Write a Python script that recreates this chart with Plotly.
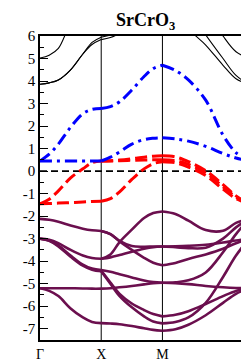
import numpy as np
import plotly.graph_objects as go

# fractional positions along each k-path segment where band energies were read
F = [0, 0.15, 0.3, 0.5, 0.7, 0.85, 1.0]
SEG_LEN = [1.0, 1.0, float(np.sqrt(2))]
K_LABELS = ["Γ", "X", "M", "Γ"]
Y_TICKS = list(range(-7, 7))
Y_RANGE = [-7.5, 6]

# ---- Γ -> X ----
GX_black = [
    [3.86, 3.92, 4.05, 4.5, 5.2, 5.62, 5.84],
    [3.86, 3.92, 4.05, 4.5, 5.2, 5.72, 5.95],
    [5.02, 5.15, 5.45, 6.6, 7.4, 7.8, 8.0],
]
GX_blue = [
    [0.45, 0.75, 1.2, 1.95, 2.55, 2.74, 2.78],
    [0.45, 0.45, 0.45, 0.45, 0.45, 0.45, 0.45],
]
GX_red = [
    [-1.45, -1.25, -0.88, -0.3, 0.1, 0.37, 0.45],
    [-1.45, -1.44, -1.42, -1.4, -1.37, -1.35, -1.34],
]
GX_purple = [
    [-2.12, -2.16, -2.25, -2.42, -2.56, -2.63, -2.66],
    [-3.0, -3.05, -3.2, -3.5, -3.75, -3.86, -3.89],
    [-3.0, -3.08, -3.3, -3.75, -4.15, -4.33, -4.39],
    [-3.0, -3.1, -3.34, -3.8, -4.2, -4.38, -4.45],
    [-5.2, -5.2, -5.2, -5.2, -5.21, -5.22, -5.22],
    [-5.2, -5.32, -5.55, -6.1, -6.5, -6.7, -6.75],
]

# ---- X -> M ----
XM_black = [
    [5.84, 5.93, 6.12, 6.5, 7.0, 7.4, 7.6],
    [5.95, 6.05, 6.3, 6.8, 7.3, 7.7, 7.9],
]
XM_blue = [
    [2.78, 2.86, 3.08, 3.6, 4.2, 4.55, 4.7],
    [0.45, 0.62, 0.85, 1.2, 1.4, 1.46, 1.48],
]
XM_red = [
    [-1.34, -1.22, -0.92, -0.37, 0.1, 0.33, 0.42],
    [0.45, 0.46, 0.49, 0.55, 0.62, 0.66, 0.68],
    [0.45, 0.45, 0.46, 0.48, 0.49, 0.5, 0.5],
]
XM_purple = [
    [-2.66, -2.8, -3.1, -3.33, -3.36, -3.35, -3.35],
    [-2.66, -2.8, -3.12, -3.5, -3.85, -4.07, -4.18],
    [-3.89, -3.7, -3.15, -2.6, -2.08, -1.86, -1.79],
    [-3.89, -3.83, -3.73, -3.58, -3.45, -3.38, -3.35],
    [-4.39, -4.47, -4.58, -4.72, -4.86, -4.93, -4.96],
    [-4.42, -4.95, -5.45, -5.88, -6.17, -6.35, -6.45],
    [-4.45, -5.0, -5.55, -6.05, -6.45, -6.68, -6.76],
    [-5.22, -5.2, -5.16, -5.1, -5.03, -4.98, -4.96],
    [-6.75, -6.77, -6.8, -6.88, -6.98, -7.05, -7.09],
]

# ---- M -> Γ ----
MG_black = [
    [8.0, 7.5, 6.35, 5.6, 4.7, 4.1, 3.86],
    [8.5, 8.0, 7.2, 6.05, 5.0, 4.25, 3.86],
    [9.0, 8.5, 8.0, 7.2, 6.0, 5.3, 5.02],
]
MG_blue = [
    [4.7, 4.47, 4.05, 3.15, 1.6, 0.82, 0.45],
    [1.48, 1.43, 1.33, 1.1, 0.78, 0.58, 0.45],
]
MG_red = [
    [0.68, 0.63, 0.42, 0.02, -0.6, -1.1, -1.45],
    [0.5, 0.46, 0.3, -0.08, -0.7, -1.15, -1.45],
    [0.42, 0.37, 0.18, -0.2, -0.8, -1.22, -1.45],
]
MG_purple = [
    [-1.79, -1.9, -2.2, -2.62, -2.65, -2.3, -2.12],
    [-3.35, -3.38, -3.42, -3.4, -3.0, -2.5, -2.12],
    [-3.35, -3.34, -3.32, -3.27, -3.17, -3.08, -3.0],
    [-4.18, -4.08, -3.9, -3.7, -3.45, -3.2, -3.0],
    [-4.96, -4.98, -5.02, -5.1, -5.16, -5.19, -5.2],
    [-4.96, -4.94, -4.85, -4.5, -3.6, -2.8, -2.12],
    [-6.45, -6.38, -6.22, -5.9, -5.55, -5.32, -5.2],
    [-6.76, -6.7, -6.5, -5.85, -4.7, -3.75, -3.0],
    [-7.09, -7.02, -6.82, -6.4, -5.85, -5.45, -5.2],
]

SEGMENTS = [
    {"black": GX_black, "purple": GX_purple, "red": GX_red, "blue": GX_blue},
    {"black": XM_black, "purple": XM_purple, "red": XM_red, "blue": XM_blue},
    {"black": MG_black, "purple": MG_purple, "red": MG_red, "blue": MG_blue},
]

STYLES = {
    "black": dict(color="black", width=1.1),
    "purple": dict(color="#6b0f4e", width=2.6),
    "red": dict(color="#ff0000", width=3, dash="12px,5px"),
    "blue": dict(color="#0000ff", width=3, dash="12px,5px,3px,5px"),
}

k_nodes = [0.0]
for L in SEG_LEN:
    k_nodes.append(k_nodes[-1] + L)

fig = go.Figure()
for group in ["black", "purple", "red", "blue"]:
    for si, seg in enumerate(SEGMENTS):
        xs, ys = [], []
        for band in seg[group]:
            xs += [k_nodes[si] + f * SEG_LEN[si] for f in F] + [None]
            ys += list(band) + [None]
        fig.add_trace(go.Scatter(
            x=xs, y=ys, mode="lines",
            line=dict(shape="spline", smoothing=1.0, **STYLES[group]),
            hoverinfo="skip", showlegend=False, connectgaps=False,
        ))

# high-symmetry verticals
for kx in k_nodes[1:-1]:
    fig.add_shape(type="line", xref="x", yref="paper", x0=kx, x1=kx, y0=0, y1=1,
                  line=dict(color="black", width=1), layer="below")
# Fermi level
fig.add_shape(type="line", xref="paper", yref="y", x0=0, x1=1, y0=0, y1=0,
              line=dict(color="black", width=1.6, dash="7px,4px"), layer="below")

serif = "Liberation Serif, Times New Roman, serif"
minor_vals = [v + 0.5 for v in range(-8, 6)]

# last k label drawn as an annotation kept just inside the right edge
tick_text = K_LABELS[:-1] + [""]
fig.add_annotation(x=1, xref="paper", xanchor="center", xshift=-2,
                   y=0, yref="paper", yanchor="top", yshift=2,
                   text=K_LABELS[-1], showarrow=False, borderpad=0,
                   font=dict(family=serif, size=14, color="black"))

fig.update_layout(
    width=249, height=360,
    margin=dict(l=32, r=6, t=28, b=15),
    paper_bgcolor="white", plot_bgcolor="white",
    font=dict(family=serif, size=15, color="black"),
    title=dict(text="<b>SrCrO<sub>3</sub></b>", x=0.553, xanchor="center",
               y=0.968, yanchor="middle", yref="container",
               font=dict(family=serif, size=18, color="black")),
    xaxis=dict(range=[k_nodes[0], k_nodes[-1]], tickmode="array",
               tickvals=k_nodes, ticktext=tick_text, ticks="",
               showgrid=False, zeroline=False, showline=True, mirror=True,
               linecolor="black", linewidth=1.5, ticklabelstandoff=0,
               tickfont=dict(family=serif, size=14)),
    yaxis=dict(range=Y_RANGE, tickmode="array", tickvals=Y_TICKS,
               ticktext=[str(v) for v in Y_TICKS],
               ticks="inside", ticklen=8, tickcolor="black", tickwidth=1,
               minor=dict(tickmode="array", tickvals=minor_vals, ticks="inside",
                          ticklen=4, tickcolor="black"),
               showgrid=False, zeroline=False, showline=True, mirror="ticks",
               linecolor="black", linewidth=1.5, ticklabelstandoff=0,
               tickfont=dict(family=serif, size=15)),
)

fig.write_html("out.html")
